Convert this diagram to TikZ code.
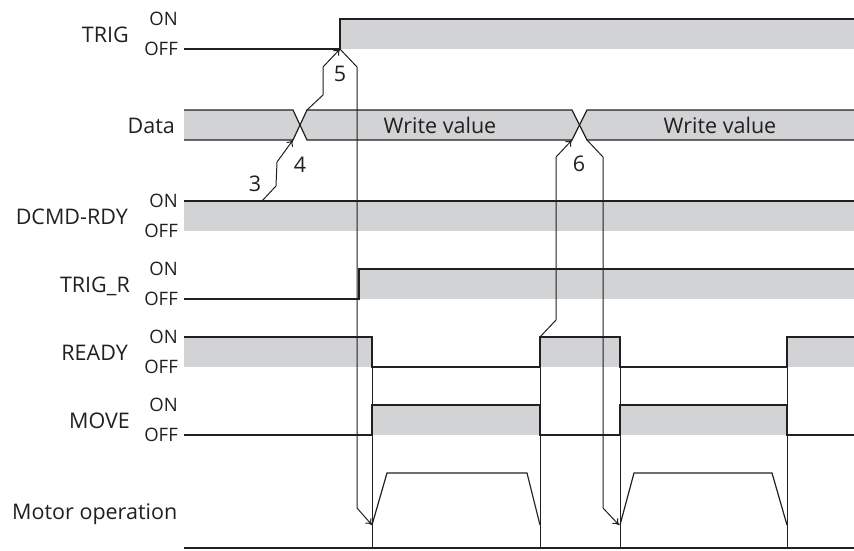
\documentclass[tikz,border=0pt]{standalone}
\usepackage{fontspec}
\setmainfont{Open Sans}
\usetikzlibrary{arrows.meta}
\definecolor{sig}{HTML}{231F20}
\definecolor{band}{HTML}{D1D3D4}
\begin{document}
\begin{tikzpicture}[x=1pt,y=-1pt,
  lbl/.style={font=\fontsize{21.5}{25}\selectfont, text=sig, inner sep=0pt},
  st/.style={font=\fontsize{18.5}{21}\selectfont, text=sig, inner sep=0pt},
  wave/.style={draw=sig, line width=1.2pt},
  bandfill/.style={fill=band, draw=none},
  tline/.style={draw=sig, line width=1pt},
  arr/.style={draw=sig, line width=1pt, -{To[length=6pt,width=8pt]}}]
\useasboundingbox (0,0) rectangle (854,550);

% ---------- key coordinates ----------
\coordinate (trigrise) at (340,49);
\coordinate (dxAl) at (293,140);
\coordinate (dxAr) at (307,110);
\coordinate (dxBl) at (572,140);
\coordinate (dxBr) at (587,140);
\coordinate (dcmd) at (262,201);
\coordinate (rdyrise) at (540,337);
\coordinate (m1) at (372,525);
\coordinate (m2) at (619,525);

% ---------- gray bands ----------
\path[bandfill] (340,19) rectangle (854,49);
\path[bandfill] (184,110) -- (293,110) -- (300,125) -- (293,140) -- (184,140) -- cycle;
\path[bandfill] (300,125) -- (307,110) -- (572,110) -- (579,125) -- (572,140) -- (307,140) -- cycle;
\path[bandfill] (579,125) -- (587,110) -- (854,110) -- (854,140) -- (587,140) -- cycle;
\path[bandfill] (184,201) rectangle (854,231);
\path[bandfill] (359,269) rectangle (854,299);
\path[bandfill] (184,337) rectangle (372,367);
\path[bandfill] (540,337) rectangle (620,367);
\path[bandfill] (787,337) rectangle (854,367);
\path[bandfill] (372,405) rectangle (540,435);
\path[bandfill] (620,405) rectangle (787,435);

% ---------- waveforms ----------
\draw[wave] (184,49) -- (340,49) -- (340,19) -- (854,19);
\draw[wave] (184,110) -- (293,110) -- (307,140) -- (572,140) -- (587,110) -- (854,110);
\draw[wave] (184,140) -- (293,140) -- (307,110) -- (572,110) -- (587,140) -- (854,140);
\draw[wave] (184,201) -- (854,201);
\draw[wave] (184,299) -- (359,299) -- (359,269) -- (854,269);
\draw[wave] (184,337) -- (372,337) -- (372,367) -- (540,367) -- (540,337) -- (620,337) -- (620,367) -- (787,367) -- (787,337) -- (854,337);
\draw[wave] (184,435) -- (372,435) -- (372,405) -- (540,405) -- (540,435) -- (620,435) -- (620,405) -- (787,405) -- (787,435) -- (854,435);
\draw[wave] (184,548) -- (854,548);
\draw[wave] (372,525) -- (387,473) -- (527,473) -- (540,525);
\draw[wave] (620,525) -- (634,473) -- (772,473) -- (787,525);

% ---------- timing lines ----------
\draw[tline] (372,367) -- (372,548);
\draw[tline] (540,367) -- (540,548);
\draw[tline] (620,367) -- (620,548);
\draw[tline] (787,367) -- (787,548);

% ---------- arrows ----------
\draw[arr] (dcmd) -- (276,186) -- (277,162) -- (dxAl);
\draw[arr] (dxAr) -- (323,95) -- (323,67) -- (trigrise);
\draw[arr] (trigrise) -- (357,67) -- (357,508) -- (m1);
\draw[arr] (rdyrise) -- (556,320) -- (556,157) -- (dxBl);
\draw[arr] (dxBr) -- (603,157) -- (603,508) -- (m2);

% ---------- labels ----------
\node[lbl, anchor=base east] (lTRIG) at (129,42) {TRIG};
\node[lbl, anchor=base east] (lData) at (175,133) {Data};
\node[lbl, anchor=base east] (lDCMD) at (128,224) {DCMD-RDY};
\node[lbl, anchor=base east] (lTRIGR) at (130,292) {TRIG\_R};
\node[lbl, anchor=base east] (lREADY) at (128,360) {READY};
\node[lbl, anchor=base east] (lMOVE) at (130,428) {MOVE};
\node[lbl, anchor=base west] (lMotor) at (12,519) {Motor operation};

\foreach \n/\y in {a/19,b/201,c/269,d/337,e/405}{
  \node[st, anchor=base east] (on\n) at (178,\y+6.5) {ON};
}
\foreach \n/\y in {a/49,b/231,c/299,d/367,e/435}{
  \node[st, anchor=base east] (off\n) at (178,\y+6.5) {OFF};
}

\node[lbl, anchor=base] (wv1) at (440,133) {Write value};
\node[lbl, anchor=base] (wv2) at (720,133) {Write value};

\node[lbl, anchor=base] (n3) at (255,191) {3};
\node[lbl, anchor=base] (n4) at (300,172) {4};
\node[lbl, anchor=base] (n5) at (340,81) {5};
\node[lbl, anchor=base] (n6) at (579,171) {6};
\end{tikzpicture}
\end{document}
